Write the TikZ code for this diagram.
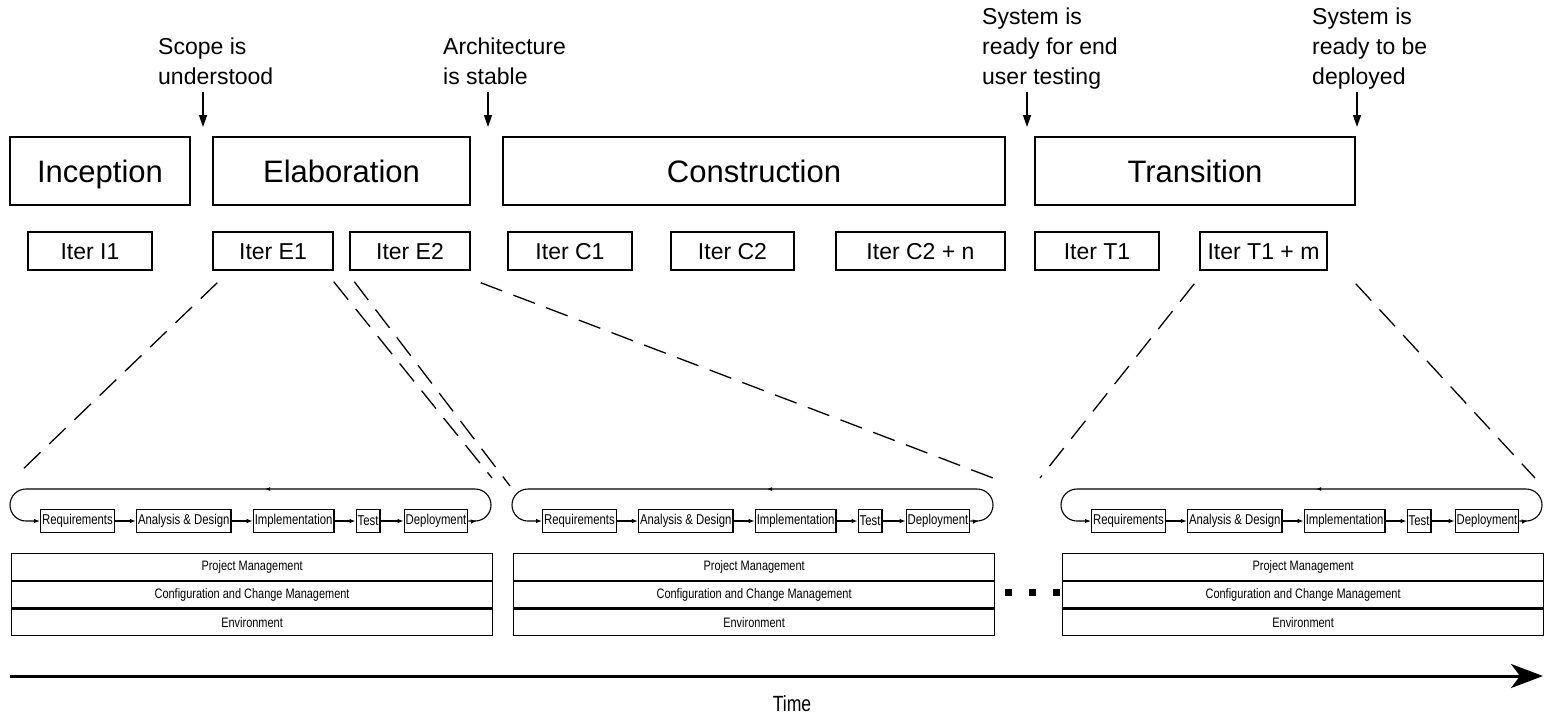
\documentclass[tikz,border=0pt]{standalone}
\usepackage{fontspec}
\setmainfont{Liberation Sans}
\newfontfamily\narrowfont[FakeStretch=0.8]{Liberation Sans}
\usetikzlibrary{positioning,arrows.meta,decorations.markings}

\tikzset{
  phasebox/.style={draw, line width=1.6pt, minimum height=68pt, inner sep=0pt, text height=22pt, text depth=0pt, font=\fontsize{31}{34}\selectfont},
  iterbox/.style={draw, line width=1.4pt, minimum height=38pt, inner sep=0pt, text height=16.5pt, text depth=0pt, font=\fontsize{23}{26}\selectfont},
  milestone/.style={anchor=south west, align=left, inner sep=0pt, text depth=0pt, font=\fontsize{23}{30}\selectfont},
  milearrow/.style={line width=1.3pt, -{Triangle[length=12pt,width=8pt]}},
  zoomline/.style={line width=1.3pt, dash pattern=on 23pt off 12pt},
  stepbox/.style={draw, line width=1.2pt, minimum height=23pt, inner xsep=1.5pt, inner ysep=0pt, font=\narrowfont\fontsize{14.2}{16}\selectfont},
  flow/.style={line width=1.1pt, -{Latex[length=6pt,width=4.5pt]}},
  loopline/.style={line width=1.1pt, rounded corners=16pt, -{Latex[length=6pt,width=4.5pt]},
    postaction={decorate}, decoration={markings,
      mark=at position 0.015 with {\arrow{Latex[length=6pt,width=4.5pt]}},
      mark=at position 0.468 with {\arrow{Latex[length=5pt,width=4pt]}}}},
  rowbox/.style={draw, line width=1.2pt, minimum width=481pt, minimum height=26.5pt, inner sep=0pt, font=\narrowfont\fontsize{13.7}{15}\selectfont},
  gapdot/.style={fill, minimum size=7pt, inner sep=0pt},
  timeline/.style={line width=3pt, -{Stealth[length=32pt,width=24pt,inset=9pt]}},
}

\begin{document}
\begin{tikzpicture}[x=1pt,y=-1pt]
  \useasboundingbox (0,0) rectangle (1545,716);

  % phases
  \node[phasebox, minimum width=180pt] (inception) at (100,171) {Inception};
  \node[phasebox, minimum width=257pt] (elaboration) at (341.5,171) {Elaboration};
  \node[phasebox, minimum width=502pt] (construction) at (754,171) {Construction};
  \node[phasebox, minimum width=320pt] (transition) at (1195,171) {Transition};

  % milestones
  \coordinate (m1) at (203,127);
  \coordinate (m2) at (488,127);
  \coordinate (m3) at (1027,127);
  \coordinate (m4) at (1357,127);
  \node[milestone] (scope) at ([xshift=-45pt,yshift=42pt]m1) {Scope is\\understood};
  \node[milestone] (arch) at ([xshift=-45pt,yshift=42pt]m2) {Architecture\\is stable};
  \node[milestone] (usertest) at ([xshift=-45pt,yshift=42pt]m3) {System is\\ready for end\\user testing};
  \node[milestone] (deploy) at ([xshift=-45pt,yshift=42pt]m4) {System is\\ready to be\\deployed};
  \draw[milearrow] ([yshift=-7pt]scope.south -| m1) -- (m1);
  \draw[milearrow] ([yshift=-7pt]arch.south -| m2) -- (m2);
  \draw[milearrow] ([yshift=-7pt]usertest.south -| m3) -- (m3);
  \draw[milearrow] ([yshift=-7pt]deploy.south -| m4) -- (m4);

  % iterations
  \foreach \nm/\cx/\w/\txt in {i1/90/124/Iter I1, e1/273/120/Iter E1, e2/410/120/Iter E2,
      c1/570/124/Iter C1, c2/732.5/123/Iter C2, c2n/920.5/169/Iter C2 + n,
      t1/1097/124/Iter T1, t1m/1263.5/127/Iter T1 + m}
    \node[iterbox, minimum width=\w pt] (\nm) at (\cx,251) {\txt};

  % workflows
  \foreach \wf/\dx in {a/0, b/502, c/1051} {
    \begin{scope}[xshift=\dx]
      \coordinate (\wf-nw) at (15,475);
      \coordinate (\wf-ne) at (487,475);
      \node[stepbox, anchor=west] (\wf-req) at (40,521) {Requirements};
      \node[stepbox, right=21pt of \wf-req] (\wf-ana) {Analysis \& Design};
      \node[stepbox, right=21pt of \wf-ana] (\wf-imp) {Implementation};
      \node[stepbox, right=21pt of \wf-imp] (\wf-test) {Test};
      \node[stepbox, right=23pt of \wf-test] (\wf-dep) {Deployment};
      \draw[flow] (\wf-req) -- (\wf-ana);
      \draw[flow] (\wf-ana) -- (\wf-imp);
      \draw[flow] (\wf-imp) -- (\wf-test);
      \draw[flow] (\wf-test) -- (\wf-dep);
      \draw[loopline] (\wf-dep.east) -- (491,521) -- (491,489) -- (10,489) -- (10,521) -- (\wf-req.west);
      \node[rowbox, anchor=north west] (\wf-pm) at (11,553) {Project Management};
      \node[rowbox, below=0pt of \wf-pm] (\wf-ccm) {Configuration and Change Management};
      \node[rowbox, below=0pt of \wf-ccm] (\wf-env) {Environment};
    \end{scope}
  }

  % zoom lines
  \draw[zoomline] ([shift={(5pt,-12pt)}]e1.south west) -- ([shift={(5pt,3pt)}]a-nw);
  \draw[zoomline] ([shift={(0pt,-11pt)}]e1.south east) -- ([shift={(5pt,-3pt)}]a-ne);
  \draw[zoomline] ([shift={(5pt,-11pt)}]e2.south west) -- ([shift={(-7pt,-11pt)}]b-nw);
  \draw[zoomline] ([shift={(10pt,-12pt)}]e2.south east) -- ([shift={(4pt,-3pt)}]b-ne);
  \draw[zoomline] ([shift={(-5pt,-13pt)}]t1m.south west) -- ([shift={(-26pt,-3pt)}]c-nw);
  \draw[zoomline] ([shift={(28pt,-13pt)}]t1m.south east) -- ([shift={(-3pt,-3pt)}]c-ne);

  % dots between workflows
  \foreach \x [count=\i] in {1008,1032,1056}
    \node[gapdot] (dot\i) at (\x,592) {};

  % time axis
  \coordinate (t0) at (10,676);
  \coordinate (t1) at (1543,676);
  \draw[timeline] (t0) -- (t1);
  \node[font=\narrowfont\fontsize{22}{24}\selectfont] (time) at (792,704) {Time};
\end{tikzpicture}
\end{document}
